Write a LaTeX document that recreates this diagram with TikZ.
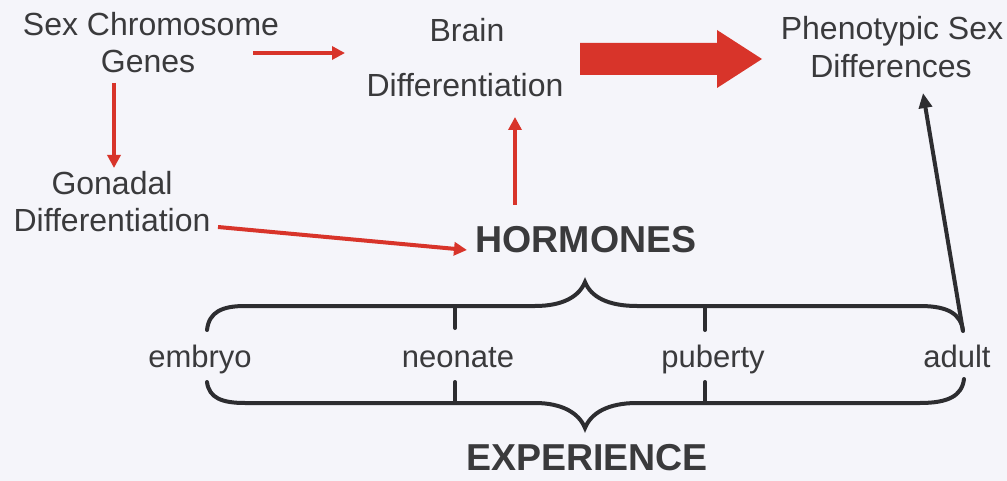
\documentclass[tikz,border=0pt]{standalone}
\usepackage{fontspec}
\setmainfont{Liberation Sans}
\usetikzlibrary{arrows.meta,calc}
\definecolor{bgc}{RGB}{245,245,250}
\definecolor{txt}{RGB}{58,58,60}
\definecolor{redc}{RGB}{216,52,42}
\definecolor{brc}{RGB}{45,45,48}
\tikzset{
  lbl/.style={anchor=base,inner sep=0pt,text=txt,font=\fontsize{32}{38}\selectfont},
  stage/.style={anchor=base,inner sep=0pt,text=txt,font=\fontsize{31}{37}\selectfont},
  big/.style={anchor=base,inner sep=0pt,text=txt,font=\fontsize{37.5}{44}\selectfont\bfseries},
  redarr/.style={draw=redc,line width=4pt,-{Triangle[length=13pt,width=13pt]}},
  blkarr/.style={draw=brc,line width=4pt,-{Triangle[length=15pt,width=13pt]}},
  bracel/.style={draw=brc,line width=4pt,line cap=round}
}
\begin{document}
\begin{tikzpicture}[x=1pt,y=-1pt]
\useasboundingbox (0,0) rectangle (1007,481);
\fill[bgc] (0,0) rectangle (1007,481);
% texts
\node[lbl] (scg1) at (151,36) {Sex Chromosome};
\node[lbl] (scg2) at (148,73) {Genes};
\node[lbl] (gon1) at (112,195) {Gonadal};
\node[lbl] (gon2) at (112,232) {Differentiation};
\node[lbl] (br1) at (467,42) {Brain};
\node[lbl] (br2) at (465,97) {Differentiation};
\node[lbl] (ph1) at (892,40) {Phenotypic Sex};
\node[lbl] (ph2) at (891,78) {Differences};
\node[big] (horm) at (586,253) {HORMONES};
\node[big] (exp) at (587,470) {EXPERIENCE};
\node[stage] (emb) at (200,367) {embryo};
\node[stage] (neo) at (458,367) {neonate};
\node[stage] (pub) at (713,367) {puberty};
\node[stage] (adu) at (957,367) {adult};
% brace shape
\coordinate (bTR) at (963,331);
\draw[bracel] (207,330) .. controls (209,312) and (222,306) .. (245,306) -- (535,306)
  .. controls (562,306) and (579,297) .. (585,282)
  .. controls (591,297) and (608,306) .. (637,306) -- (920,306)
  .. controls (948,306) and (961,314) .. (bTR);
\draw[bracel] (207,382) .. controls (209,398) and (222,403) .. (245,403) -- (535,403)
  .. controls (562,403) and (579,413) .. (585,428)
  .. controls (591,413) and (608,403) .. (637,403) -- (920,403)
  .. controls (948,403) and (962,396) .. (964,379);
\draw[bracel] (455,306) -- (455,328) (455,382) -- (455,402)
              (705,306) -- (705,330) (705,382) -- (705,402);
% connectors
\draw[redarr] ($(scg2.base)+(105,-20)$) -- ($(br1.base)+(-122,11)$);
\draw[redarr] ($(scg2.base)+(-34,10)$) -- ($(gon1.base)+(2,-27)$);
\draw[redarr] ($(gon2.base)+(106,-5)$) -- ($(horm.base)+(-119,-3)$);
\draw[redarr] ($(horm.base)+(-71,-48)$) -- ($(br2.base)+(50,20)$);
\draw[blkarr] (bTR) -- ($(ph2.base)+(32,15)$);
% big block arrow between brain and phenotypic
\fill[redc] ($(br2.base)+(115,-54)$) coordinate (ba) -- ++(137,0) -- ++(0,-13) -- ++(45,29) -- ++(-45,29) -- ++(0,-13) -- ++(-137,0) -- cycle;
\end{tikzpicture}
\end{document}
